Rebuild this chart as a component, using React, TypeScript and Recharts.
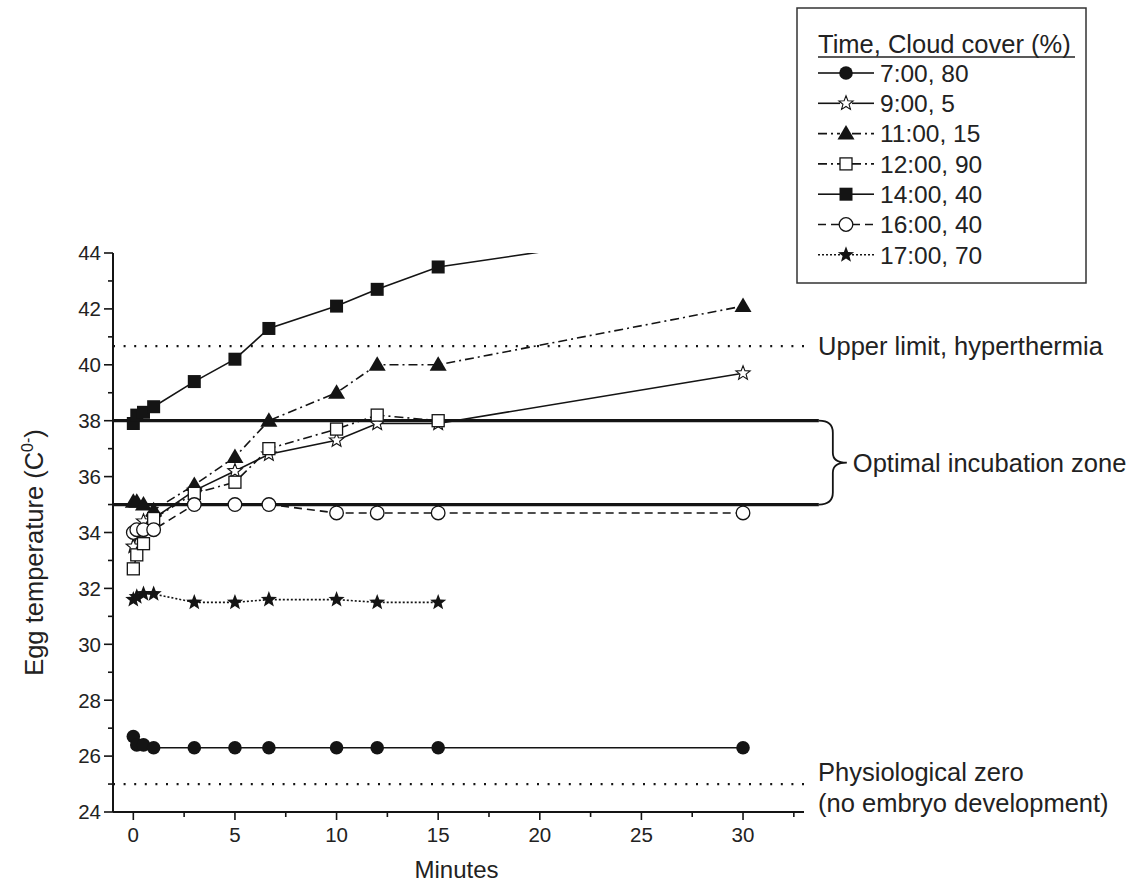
import React from 'react';
import { ComposedChart, Line, XAxis, YAxis, ReferenceLine, ReferenceArea } from 'recharts';

// ---- data ----
const minutes = [0, 0.17, 0.5, 1, 3, 5, 6.67, 10, 12, 15, 30];
const s0700 = [26.7, 26.4, 26.4, 26.3, 26.3, 26.3, 26.3, 26.3, 26.3, 26.3, 26.3];
const s0900 = [33.5, 33.9, 34.4, 34.5, 35.5, 36.2, 36.8, 37.3, 37.9, 37.9, 39.7];
const s1100 = [35.1, 35.1, 35.0, 34.8, 35.7, 36.7, 38.0, 39.0, 40.0, 40.0, 42.1];
const s1200 = [32.7, 33.2, 33.6, 34.5, 35.4, 35.8, 37.0, 37.7, 38.2, 38.0, null];
const s1400 = [37.9, 38.2, 38.3, 38.5, 39.4, 40.2, 41.3, 42.1, 42.7, 43.5, 45.1];
const s1600 = [34.0, 34.1, 34.1, 34.1, 35.0, 35.0, 35.0, 34.7, 34.7, 34.7, 34.7];
const s1700 = [31.6, 31.7, 31.8, 31.8, 31.5, 31.5, 31.6, 31.6, 31.5, 31.5, null];

const seriesNames = ['7:00, 80', '9:00, 5', '11:00, 15', '12:00, 90', '14:00, 40', '16:00, 40', '17:00, 70'];
const seriesKeys = ['s0700', 's0900', 's1100', 's1200', 's1400', 's1600', 's1700'];
const seriesMarkers = ['circleF', 'starO', 'triF', 'sqO', 'sqF', 'circO', 'starF'];
const seriesDash = ['', '', '9 4 2 4', '9 4 2 4', '', '8 5', '2 2'];

const xTicks = [0, 2.5, 5, 7.5, 10, 12.5, 15, 17.5, 20, 22.5, 25, 27.5, 30, 32.5];
const xLabelTicks = [0, 5, 10, 15, 20, 25, 30];
const yTicks = [24, 25, 26, 27, 28, 29, 30, 31, 32, 33, 34, 35, 36, 37, 38, 39, 40, 41, 42, 43, 44];
const yLabelTicks = [24, 26, 28, 30, 32, 34, 36, 38, 40, 42, 44];

const optimalLow = 35;
const optimalHigh = 38;
const upperLimit = 40.67;
const physioZero = 25;

const legendTitle = 'Time, Cloud cover (%)';
const upperLabel = 'Upper limit, hyperthermia';
const optimalLabel = 'Optimal incubation zone';
const zeroLabel1 = 'Physiological zero';
const zeroLabel2 = '(no embryo development)';

const data = minutes.map((m, i) => ({
  m,
  s0700: s0700[i],
  s0900: s0900[i],
  s1100: s1100[i],
  s1200: s1200[i],
  s1400: s1400[i],
  s1600: s1600[i],
  s1700: s1700[i],
}));

const FONT = '"Liberation Sans", Arial, Helvetica, sans-serif';
const INK = '#141414';
const ANN = 25.5;

function starPoints(cx: number, cy: number, ro: number, ri: number) {
  const pts: string[] = [];
  for (let i = 0; i < 10; i++) {
    const r = i % 2 === 0 ? ro : ri;
    const a = -Math.PI / 2 + (i * Math.PI) / 5;
    pts.push(`${(cx + r * Math.cos(a)).toFixed(2)},${(cy + r * Math.sin(a)).toFixed(2)}`);
  }
  return pts.join(' ');
}

function Marker({ kind, cx, cy }: { kind: string; cx: number; cy: number }) {
  switch (kind) {
    case 'circleF':
      return <circle cx={cx} cy={cy} r={6.8} fill={INK} />;
    case 'circO':
      return <circle cx={cx} cy={cy} r={6.8} fill="#fff" stroke={INK} strokeWidth={1.3} />;
    case 'sqF':
      return <rect x={cx - 6.5} y={cy - 6.5} width={13} height={13} fill={INK} />;
    case 'sqO':
      return <rect x={cx - 6} y={cy - 6} width={12} height={12} fill="#fff" stroke={INK} strokeWidth={1.3} />;
    case 'triF':
      return <polygon points={`${cx},${cy - 8.5} ${cx + 8.5},${cy + 6} ${cx - 8.5},${cy + 6}`} fill={INK} />;
    case 'starO':
      return <polygon points={starPoints(cx, cy, 7.5, 3.2)} fill="#fff" stroke={INK} strokeWidth={1.1} />;
    case 'starF':
      return <polygon points={starPoints(cx, cy, 8.5, 3.6)} fill={INK} />;
    default:
      return null;
  }
}

const makeDot = (kind: string) => (p: any) => {
  const key = `d-${kind}-${p.index}`;
  if (p.cx == null || p.cy == null || p.value == null || (Array.isArray(p.value) && p.value[1] == null)) {
    return <g key={key} />;
  }
  return (
    <g key={key}>
      <Marker kind={kind} cx={p.cx} cy={p.cy} />
    </g>
  );
};

const YTick = (props: any) => {
  const { x, y, payload } = props;
  const v = payload.value;
  const major = yLabelTicks.includes(v);
  return (
    <g>
      <line x1={x} x2={x - (major ? 9 : 5)} y1={y} y2={y} stroke={INK} strokeWidth={1.6} />
      {major && (
        <text x={x - 12} y={y} dy="0.36em" textAnchor="end" fontSize={20.5} fontFamily={FONT} fill="#222">
          {v}
        </text>
      )}
    </g>
  );
};

const XTick = (props: any) => {
  const { x, y, payload } = props;
  const v = payload.value;
  const major = xLabelTicks.includes(v);
  return (
    <g>
      <line x1={x} x2={x} y1={y} y2={y + (major ? 8 : 5)} stroke={INK} strokeWidth={1.6} />
      {major && (
        <text x={x} y={y + 15} dy="0.72em" textAnchor="middle" fontSize={20.5} fontFamily={FONT} fill="#222">
          {v}
        </text>
      )}
    </g>
  );
};

const RightLabel = (text: string) => (p: any) => {
  const vb = p.viewBox || {};
  const x = (vb.x ?? 0) + (vb.width ?? 0) + 11;
  const y = vb.y ?? 0;
  return (
    <text x={x} y={y} dy="0.36em" fontSize={ANN} fontFamily={FONT} fill="#222">
      {text}
    </text>
  );
};

const ZeroLabel = (p: any) => {
  const vb = p.viewBox || {};
  const x = (vb.x ?? 0) + (vb.width ?? 0) + 11;
  const y = vb.y ?? 0;
  return (
    <text fontSize={ANN} fontFamily={FONT} fill="#222">
      <tspan x={x} y={y - 3}>{zeroLabel1}</tspan>
      <tspan x={x} y={y + 28}>{zeroLabel2}</tspan>
    </text>
  );
};

const BraceShape = (p: any) => {
  const { x, y, height } = p;
  if (x == null || y == null) return <g />;
  const top = y;
  const bot = y + height;
  const mid = (top + bot) / 2;
  const x0 = x;
  const x1 = x + 14;
  const x2 = x + 28;
  const path = `M ${x0} ${top} Q ${x1} ${top} ${x1} ${top + 12} L ${x1} ${mid - 10} Q ${x1} ${mid} ${x2} ${mid} Q ${x1} ${mid} ${x1} ${mid + 10} L ${x1} ${bot - 12} Q ${x1} ${bot} ${x0} ${bot}`;
  return (
    <g>
      <path d={path} fill="none" stroke={INK} strokeWidth={1.8} />
      <text x={x2 + 6} y={mid} dy="0.36em" fontSize={ANN} fontFamily={FONT} fill="#222">
        {optimalLabel}
      </text>
    </g>
  );
};

const YLabel = (p: any) => {
  const vb = p.viewBox || {};
  const cx = (vb.x ?? 0) - 10;
  const cy = (vb.y ?? 0) + (vb.height ?? 0) / 2 + 20;
  return (
    <text
      x={cx}
      y={cy}
      transform={`rotate(-90 ${cx} ${cy})`}
      textAnchor="middle"
      fontSize={ANN}
      fontFamily={FONT}
      fill="#222"
    >
      Egg temperature (C
      <tspan dy={-10} fontSize={16}>0-</tspan>
      <tspan dy={10}>)</tspan>
    </text>
  );
};

const XLabel = (p: any) => {
  const vb = p.viewBox || {};
  const cx = (vb.x ?? 0) + (vb.width ?? 0) / 2 - 2;
  const cy = (vb.y ?? 0) + 66;
  return (
    <text x={cx} y={cy} textAnchor="middle" fontSize={24} fontFamily={FONT} fill="#222">
      Minutes
    </text>
  );
};

function LegendBox() {
  const rowY0 = 73;
  const rowStep = 30.3;
  return (
    <svg
      width={292}
      height={278}
      style={{ position: 'absolute', left: 796, top: 7 }}
    >
      <rect x={1} y={1} width={289} height={275} fill="#fff" stroke="#333" strokeWidth={1.5} />
      <text x={22} y={46} fontSize={25.5} fontFamily={FONT} fill="#222">
        {legendTitle}
      </text>
      <line x1={22} x2={279} y1={50} y2={50} stroke="#222" strokeWidth={1.4} />
      {seriesNames.map((name, i) => {
        const cy = rowY0 + i * rowStep - 7;
        const dash = seriesDash[i];
        return (
          <g key={name}>
            <line x1={22} x2={44} y1={cy} y2={cy} stroke={INK} strokeWidth={1.6} strokeDasharray={dash || undefined} />
            <line x1={56} x2={78} y1={cy} y2={cy} stroke={INK} strokeWidth={1.6} strokeDasharray={dash || undefined} />
            <Marker kind={seriesMarkers[i]} cx={50} cy={cy} />
            <text x={84} y={cy} dy="0.36em" fontSize={24.5} fontFamily={FONT} fill="#222">
              {name}
            </text>
          </g>
        );
      })}
    </svg>
  );
}

export default function App() {
  return (
    <div style={{ position: 'absolute', left: 0, top: 0, width: 1137, height: 893, background: '#fff' }}>
      <ComposedChart
        width={1137}
        height={893}
        data={data}
        margin={{ top: 253, right: 333, bottom: 41, left: 53 }}
      >
        <XAxis
          dataKey="m"
          type="number"
          domain={[-1, 33]}
          ticks={xTicks}
          interval={0}
          tickSize={0}
          tickMargin={0}
          tick={<XTick />}
          axisLine={{ stroke: INK, strokeWidth: 2 }}
          tickLine={false}
          height={40}
          allowDataOverflow
          label={<XLabel />}
        />
        <YAxis
          type="number"
          domain={[24, 44]}
          ticks={yTicks}
          interval={0}
          tickSize={0}
          tickMargin={0}
          tick={<YTick />}
          axisLine={{ stroke: INK, strokeWidth: 2 }}
          tickLine={false}
          width={60}
          allowDataOverflow
          label={<YLabel />}
        />
        <ReferenceLine
          segment={[{ x: -1, y: upperLimit }, { x: 33.15, y: upperLimit }]}
          stroke={INK}
          strokeWidth={2.2}
          strokeDasharray="2 8.6"
          ifOverflow="visible"
          label={RightLabel(upperLabel)}
        />
        <ReferenceLine
          segment={[{ x: -1, y: physioZero }, { x: 33.15, y: physioZero }]}
          stroke={INK}
          strokeWidth={2.2}
          strokeDasharray="2 8.6"
          ifOverflow="visible"
          label={ZeroLabel}
        />
        {seriesKeys.map((k, i) => (
          <Line
            key={k}
            dataKey={k}
            name={seriesNames[i]}
            stroke={INK}
            strokeWidth={1.6}
            strokeDasharray={seriesDash[i] || undefined}
            dot={makeDot(seriesMarkers[i])}
            activeDot={false}
            isAnimationActive={false}
            connectNulls={false}
          />
        ))}
        <ReferenceLine
          segment={[{ x: -1, y: optimalHigh }, { x: 33.73, y: optimalHigh }]}
          stroke={INK}
          strokeWidth={3.2}
          ifOverflow="visible"
        />
        <ReferenceLine
          segment={[{ x: -1, y: optimalLow }, { x: 33.73, y: optimalLow }]}
          stroke={INK}
          strokeWidth={3.2}
          ifOverflow="visible"
        />
        <ReferenceArea
          x1={33.73}
          x2={34.6}
          y1={optimalLow}
          y2={optimalHigh}
          ifOverflow="visible"
          shape={BraceShape}
        />
      </ComposedChart>
      <LegendBox />
    </div>
  );
}
